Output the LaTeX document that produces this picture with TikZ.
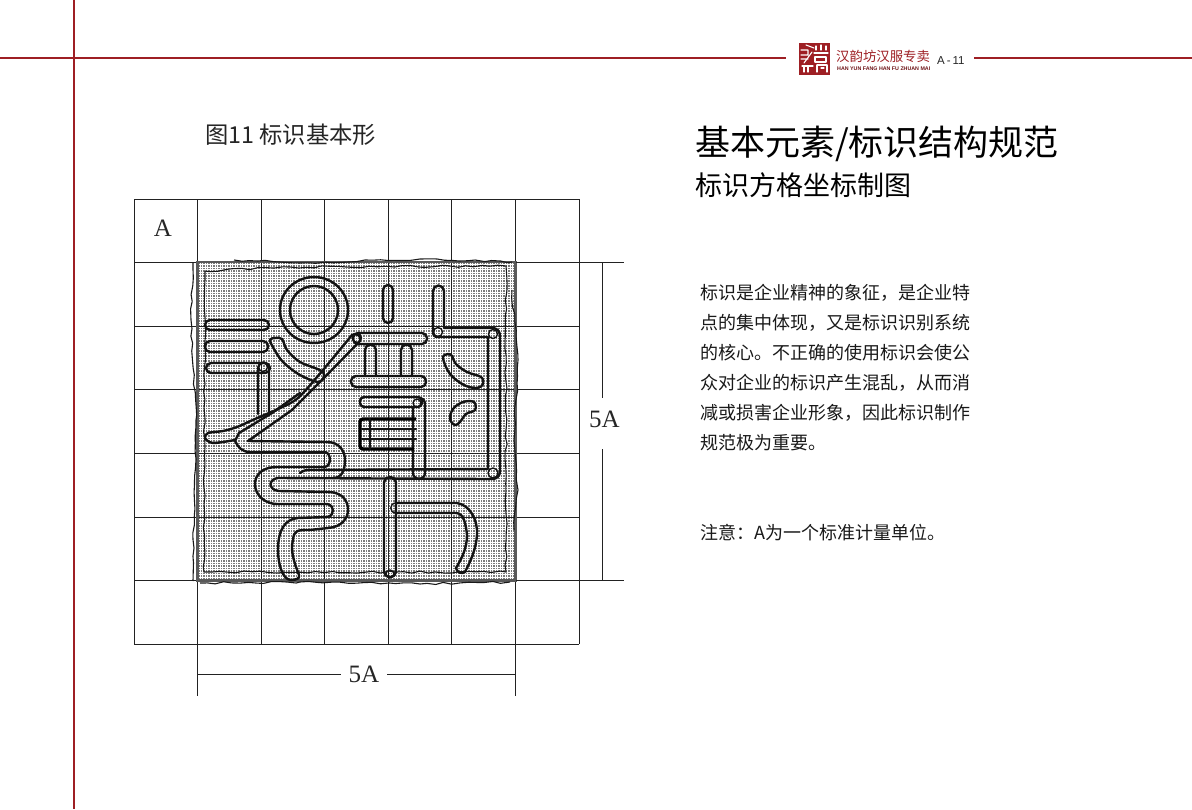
\documentclass[tikz,border=0pt]{standalone}
\usepackage{fontspec}
\usetikzlibrary{decorations.pathmorphing}
\setmainfont{Liberation Serif}
\newfontfamily\cjk{Noto Sans CJK SC}
\newfontfamily\latinsans{Liberation Sans}
\definecolor{brand}{HTML}{9E1F24}
\definecolor{gridink}{HTML}{222222}
\tikzset{
  gridline/.style={draw=gridink,line width=1pt},
  ink/.style={draw=black!92,line width=2.4pt,line join=round,line cap=round},
  thin ink/.style={draw=black!92,line width=1.4pt,line join=round,line cap=round},
  sketch/.style={draw=black!90,line width=1.1pt,decorate,decoration={random steps,segment length=8,amplitude=1.1}},
  redrule/.style={draw=brand,line width=1.6pt},
  sealline/.style={draw=white,line width=1.1pt,line cap=round,line join=round},
  copy/.style={anchor=west,inner sep=0pt,font=\cjk\fontsize{18}{20}\selectfont,text=black!90},
  dimlabel/.style={inner sep=0pt,font=\fontsize{25}{28}\selectfont,text=black!85},
}
\begin{document}
\begin{tikzpicture}[x=1pt,y=-1pt]
\useasboundingbox (0,0) rectangle (1192,809);
\fill[white] (0,0) rectangle (1192,809);
% page rules
\draw[redrule] (0,58) -- (786,58);
\draw[redrule] (974,58) -- (1192,58);
\draw[redrule] (74,0) -- (74,809);
% seal
\fill[brand] (798.5,43) rectangle (830,74.5);
\draw[sealline] (801,50) -- (808,50) -- (808,55) -- (801,55) (801,59) -- (808,59) (806,45) -- (814,48) (812,52) -- (804,63);
\draw[sealline] (816,46) -- (816,50) (821,45) -- (821,50) (826,46) -- (826,50) (814,53) -- (828,53) (815,57) -- (826,57) -- (826,62) -- (815,62) -- cycle;
\draw[sealline] (802,66) -- (813,66) (804,66) -- (804,72) (817,65) -- (827,65) -- (827,72) (817,65) -- (817,72) (808,66) -- (808,72) (821,68) -- (824,68);
\node[inner sep=0pt,anchor=west,text=brand,font=\cjk\fontsize{13.4}{14}\selectfont] (brandcn) at (836,56) {汉韵坊汉服专卖};
\node[inner sep=0pt,anchor=west,text=brand!70!black,font=\latinsans\fontsize{5.3}{6}\bfseries\selectfont] (brandlat) at (837,68.5) {HAN YUN FANG HAN FU ZHUAN MAI};
\node[inner sep=0pt,anchor=west,text=black!85,font=\latinsans\fontsize{11.5}{12}\selectfont] (pageno) at (937,61) {A\,-\,11};
% titles
\node[inner sep=0pt,anchor=west,text=black!85,font=\cjk\fontsize{23.3}{26}\selectfont] (figcap) at (205,135) {图11 标识基本形};
\node[inner sep=0pt,anchor=west,text=black,font=\cjk\fontsize{35}{38}\selectfont] (title) at (695,144) {基本元素/标识结构规范};
\node[inner sep=0pt,anchor=west,text=black,font=\cjk\fontsize{27}{30}\selectfont] (subtitle) at (695,185) {标识方格坐标制图};
\node[copy] (t1) at (700,293) {标识是企业精神的象征，是企业特};
\node[copy] (t2) at (700,323) {点的集中体现，又是标识识别系统};
\node[copy] (t3) at (700,353) {的核心。不正确的使用标识会使公};
\node[copy] (t4) at (700,383) {众对企业的标识产生混乱，从而消};
\node[copy] (t5) at (700,413) {减或损害企业形象，因此标识制作};
\node[copy] (t6) at (700,443) {规范极为重要。};
\node[copy] (t7) at (700,533) {注意：A为一个标准计量单位。};
% logo field
\fill[black!52] (197.5,262) rectangle (515.5,580.5);
\begin{scope}
\clip (197.5,262) rectangle (515.5,580.5);
\foreach \k in {0,...,127} {
  \draw[white,line width=.85pt] (197.5+2.5*\k,262) -- (197.5+2.5*\k,580.5);
  \draw[white,line width=.85pt] (197.5,262+2.5*\k) -- (515.5,262+2.5*\k);
}
\end{scope}
% grid
\foreach \gx in {134,197.5,261,324.5,388,451.5,515.5,579} \draw[gridline] (\gx,199) -- (\gx,644);
\foreach \gy in {199,262,326,389.5,453,517,580.5,644} \draw[gridline] (134,\gy) -- (579,\gy);
% field outline and hand frames
\draw[draw=black!65,line width=2.4pt] (197.5,262) rectangle (515.5,580.5);
\pgfmathsetseed{11}
\draw[sketch] (205,271) -- (204,572) -- (506,572) -- (506,266) -- (290,267) -- (205,271);
\draw[sketch] (193,262) -- (191,320) -- (196,420) -- (193,581);
\draw[sketch] (234,260) -- (300,263) -- (420,259) -- (512,262);
\draw[sketch] (512,290) -- (518,360) -- (514,440) -- (518,490) -- (514,530);
\draw[sketch] (200,583) -- (300,582) -- (420,584) -- (510,582);
% sigil: circle
\draw[ink] (314,310) ellipse [x radius=34,y radius=33];
\draw[ink] (314,310) circle [radius=24];
% three bars and stem
\draw[ink,rounded corners=5] (205,320) rectangle (269,330);
\draw[ink,rounded corners=5] (205,341) rectangle (268,352);
\draw[ink,rounded corners=5] (206,363) rectangle (270,373);
\draw[ink] (258,414) -- (258,368) arc[start angle=180,end angle=360,radius=5.5] -- (269,414);
\draw[thin ink] (263,367) circle [radius=4.5];
% curved stroke
\draw[ink] plot[smooth cycle,tension=.55] coordinates {(270,340) (275,338) (282,339) (287,350) (300,362) (323,372) (319,382) (300,375) (283,362) (274,349)};
% brush diagonal
\draw[ink] plot[smooth,tension=.5] coordinates {(352,335) (323,370) (298,398) (278,409) (255,419) (237,427) (223,431) (208,433) (205,438) (213,443) (235,440)};
\draw[ink] (352,335) .. controls (356,332) and (362,336) .. (360,341) -- (323,379) -- (292,410) -- (248,441) -- (327,442) .. controls (340,442) and (345,452) .. (345,460) .. controls (345,470) and (342,478) .. (333,478);
\draw[ink] (300,393) -- (272,413) -- (239,433) -- (235,441) .. controls (238,447) and (242,452) .. (250,452) -- (325,452) .. controls (331,453) and (332,465) .. (325,467) -- (277,467) .. controls (262,467) and (255,475) .. (255,484) .. controls (255,496) and (266,504) .. (277,504) -- (327,504) .. controls (335,505) and (335,516) .. (327,517) -- (298,518) .. controls (285,519) and (278,530) .. (278,550) .. controls (278,565) and (283,580) .. (291,580) .. controls (297,580) and (300,578) .. (299,575) .. controls (294,562) and (290,550) .. (293,540) .. controls (294,530) and (297,530) .. (310,530) -- (328,528) .. controls (342,527) and (348,518) .. (348,510) .. controls (348,500) and (342,493) .. (330,492) -- (279,491) .. controls (268,490) and (268,479) .. (278,478) -- (488,479);
\draw[ink] (300,473) .. controls (304,470) and (306,470) .. (312,470) -- (488,469) -- (488,337) -- (438,337) .. controls (434,337) and (433,335) .. (433,331) -- (433,291) arc[start angle=180,end angle=360,radius=5.5] -- (444,328) -- (492,328) .. controls (497,328) and (500,331) .. (500,336) -- (500,471) .. controls (500,476) and (497,479) .. (492,479) -- (488,479);
\draw[thin ink] (438,332) circle [radius=4.5] (493,334) circle [radius=4.5] (493,473) circle [radius=5];
% upper middle
\draw[ink,rounded corners=5] (383,285) rectangle (393,323);
\draw[ink,rounded corners=5] (353,333) rectangle (427,344);
\draw[ink] (365,376) -- (365,350) arc[start angle=180,end angle=360,radius=5.5] -- (376,376);
\draw[ink] (401,376) -- (401,350) arc[start angle=180,end angle=360,radius=5.5] -- (412,376);
\draw[ink,rounded corners=5] (351,376) rectangle (426,387);
\draw[thin ink] (357,338) circle [radius=4.5];
% block with comb
\draw[ink,rounded corners=4] (360,397) rectangle (422,407);
\draw[ink] (413,407) -- (413,473) arc[start angle=180,end angle=0,radius=6] -- (425,403) arc[start angle=0,end angle=-90,radius=5];
\draw[line width=3.4pt,draw=black,rounded corners=3] (416,419) -- (360,419) -- (360,449) -- (414,449);
\draw[ink] (362,429) -- (416,429) (362,439) -- (416,439) (370,419) -- (370,449);
\draw[thin ink] (417,403) circle [radius=4];
% small curved shapes
\draw[ink] plot[smooth cycle,tension=.6] coordinates {(443,358) (448,354) (452,356) (456,364) (467,372) (481,377) (483,384) (477,388) (464,385) (450,374)};
\draw[ink] plot[smooth cycle,tension=.6] coordinates {(450,419) (453,409) (463,402) (474,402) (475,410) (466,414) (460,422) (455,425)};
% lower right
\draw[ink,rounded corners=5.5] (384,477) rectangle (396,577);
\draw[thin ink] (390,574) circle [radius=4];
\draw[ink] (396,503) -- (457,503) .. controls (470,505) and (478,520) .. (477,535) .. controls (476,550) and (470,562) .. (465,572) .. controls (462,574) and (457,573) .. (456,568) .. controls (462,558) and (467,548) .. (467,535) .. controls (466,525) and (464,513) .. (456,513) -- (396,513);
\draw[thin ink] (396,503) .. controls (389,503) and (389,513) .. (396,513);
% dimensions
\coordinate (dimtop) at (602,262);
\coordinate (dimbot) at (602,580.5);
\node[dimlabel] (dimr) at (604.5,419) {5A};
\draw[gridline] (515.5,262) -- (624,262);
\draw[gridline] (515.5,580.5) -- (624,580.5);
\draw[gridline] (dimtop) -- (602,398);
\draw[gridline] (602,449) -- (dimbot);
\coordinate (diml) at (197.5,674);
\coordinate (dimrr) at (515.5,674);
\node[dimlabel] (dimb) at (364,674) {5A};
\draw[gridline] (diml) -- (341,674);
\draw[gridline] (387,674) -- (dimrr);
\draw[gridline] (197.5,644) -- (197.5,696);
\draw[gridline] (515.5,644) -- (515.5,696);
\node[dimlabel] (unita) at (163,228) {A};
\end{tikzpicture}
\end{document}
